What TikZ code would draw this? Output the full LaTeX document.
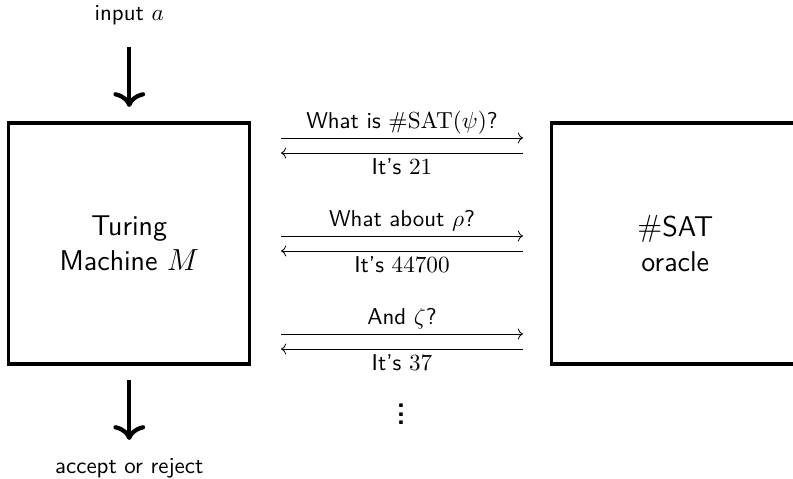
\documentclass[tikz,border=0pt]{standalone}
\usetikzlibrary{arrows.meta}
\begin{document}
\begin{tikzpicture}[x=0.472pt,y=-0.472pt,
  every node/.style={font=\sffamily\fontsize{10.8}{13}\selectfont},
  machine/.style={draw, line width=1.5pt, minimum width=4cm, minimum height=4cm, inner sep=0pt, align=center, font=\sffamily\fontsize{13.5}{16.5}\selectfont},
  msg/.style={-{To}, line width=0.4pt},
  bigarrow/.style={-{To[length=7pt,width=15pt]}, line width=2pt},
  lbl/.style={anchor=base, inner sep=0pt}]
\useasboundingbox (0,0) rectangle (793,479);
\node[machine] (tm) at (129.25,243.5) {Turing\\Machine $M$};
\node[machine, minimum width=4cm+3pt] (oracle) at (675.3,243.5) {$\#$SAT\\oracle};
% input / output
\node[lbl] (input) at (129.25,21) {input $a$};
\coordinate (inS) at (129.25,47);
\coordinate (inE) at (129.25,107);
\draw[bigarrow] (inS) -- (inE);
\coordinate (outS) at (129.25,380);
\coordinate (outE) at (129.25,440);
\draw[bigarrow] (outS) -- (outE);
\node[lbl] (output) at (129.25,474) {accept or reject};
% queries
\coordinate (q1s) at (281,138); \coordinate (q1e) at (523,138);
\coordinate (r1s) at (523,153); \coordinate (r1e) at (281,153);
\draw[msg] (q1s) -- (q1e);
\draw[msg] (r1s) -- (r1e);
\node[lbl] (q1) at (402,129) {What is $\#\mathrm{SAT}(\psi)$?};
\node[lbl] (r1) at (402,175) {It's $21$};
\coordinate (q2s) at (281,236); \coordinate (q2e) at (523,236);
\coordinate (r2s) at (523,251); \coordinate (r2e) at (281,251);
\draw[msg] (q2s) -- (q2e);
\draw[msg] (r2s) -- (r2e);
\node[lbl] (q2) at (402,227) {What about $\rho$?};
\node[lbl] (r2) at (402,273) {It's $44700$};
\coordinate (q3s) at (281,334); \coordinate (q3e) at (523,334);
\coordinate (r3s) at (523,349); \coordinate (r3e) at (281,349);
\draw[msg] (q3s) -- (q3e);
\draw[msg] (r3s) -- (r3e);
\node[lbl] (q3) at (402,325) {And $\zeta$?};
\node[lbl] (r3) at (402,371) {It's $37$};
\node[inner sep=0pt, font=\sffamily\bfseries\fontsize{13}{15}\selectfont] (dots) at (401,408) {\vdots};
\end{tikzpicture}
\end{document}
